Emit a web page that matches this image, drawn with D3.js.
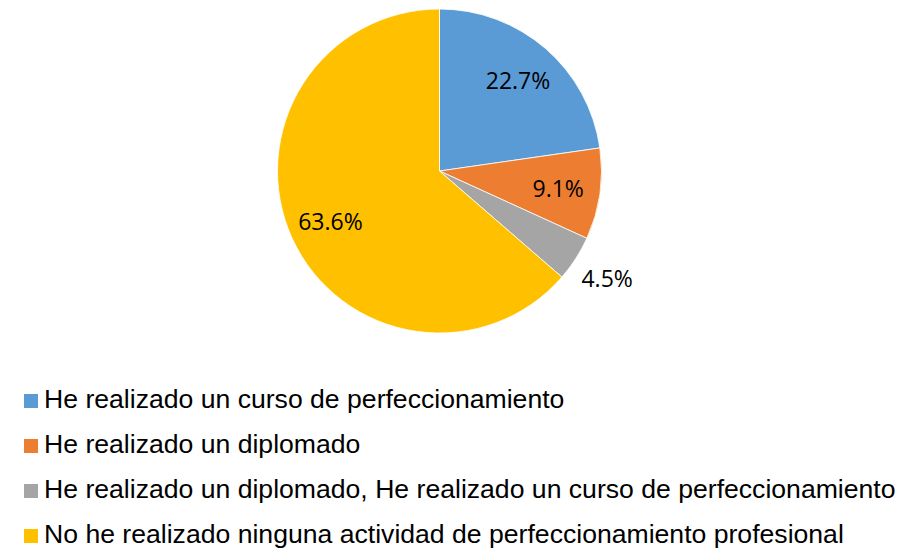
<!DOCTYPE html>
<html>
<head>
<meta charset="utf-8">
<script src="https://cdn.jsdelivr.net/npm/d3@7"></script>
<style>
  html, body { margin: 0; padding: 0; background: #fff; }
  svg { display: block; }
</style>
</head>
<body>
<div id="chart"></div>
<script>
// answers (counts out of 22 respondents)
const categories = [
  'He realizado un curso de perfeccionamiento',
  'He realizado un diplomado',
  'He realizado un diplomado, He realizado un curso de perfeccionamiento',
  'No he realizado ninguna actividad de perfeccionamiento profesional'
];
const counts = [5, 2, 1, 14];
const colors = ['#5B9BD5', '#ED7D31', '#A5A5A5', '#FFC000'];

const width = 923;
const height = 551;
const cx = 439.5;
const cy = 171;
const radius = 162;

const svg = d3.select('#chart')
  .append('svg')
  .attr('width', width)
  .attr('height', height);

const total = d3.sum(counts);
const data = categories.map((c, i) => ({ name: c, value: counts[i], color: colors[i] }));

const pie = d3.pie().sort(null).value((d) => d.value);
const arcs = pie(data);

const arc = d3.arc().innerRadius(0).outerRadius(radius);
const labelArcIn = d3.arc().innerRadius(radius * 0.74).outerRadius(radius * 0.74);
const labelArcOut = d3.arc().innerRadius(radius * 1.23).outerRadius(radius * 1.23);

const g = svg.append('g').attr('transform', `translate(${cx},${cy})`);

g.selectAll('path')
  .data(arcs)
  .enter()
  .append('path')
  .attr('d', arc)
  .style('fill', (d) => d.data.color)
  .style('stroke', '#fff')
  .style('stroke-width', '0.8px');

// percentage labels, small slices go outside
g.selectAll('.label')
  .data(arcs)
  .enter()
  .append('text')
  .attr('class', 'label')
  .attr('transform', (d) => {
    const small = d.value / total < 0.06;
    const p = (small ? labelArcOut : labelArcIn).centroid(d);
    return `translate(${p[0]},${p[1]})`;
  })
  .attr('text-anchor', 'middle')
  .attr('dy', '0.38em')
  .style('font-family', '"Open Sans", "Noto Sans", sans-serif')
  .style('font-size', '23px')
  .style('fill', '#000')
  .text((d) => (d.value / total * 100).toFixed(1) + '%');

// legend
const legend = svg.append('g').attr('transform', 'translate(24,394)');
const row = legend.selectAll('.row')
  .data(data)
  .enter()
  .append('g')
  .attr('class', 'row')
  .attr('transform', (d, i) => `translate(0,${i * 45})`);

row.append('rect')
  .attr('width', 14)
  .attr('height', 14)
  .style('fill', (d) => d.color);

row.append('text')
  .attr('x', 20)
  .attr('y', 14)
  .style('font-family', '"Liberation Sans", Arial, sans-serif')
  .style('font-size', '26.6px')
  .style('fill', '#000')
  .text((d) => d.name);
</script>
</body>
</html>
